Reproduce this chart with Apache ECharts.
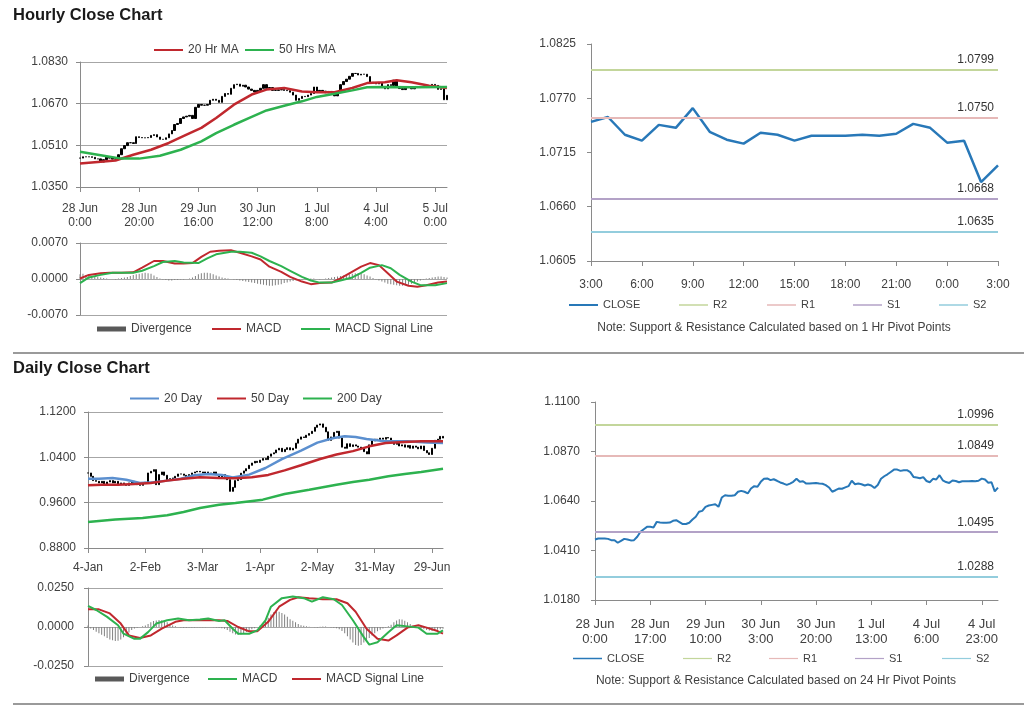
<!DOCTYPE html>
<html><head><meta charset="utf-8">
<script src="https://cdn.jsdelivr.net/npm/echarts@6/dist/echarts.min.js"></script>
<style>html,body{margin:0;padding:0;background:#fff}#c{width:1024px;height:706px}</style>
</head><body><div id="c"></div>
<script>
// ---------- Hourly data (28 Jun 0:00 .. 5 Jul, trading hours) ----------
const hourlyClose = [
1.0461,1.0466,1.0466,1.0466,1.0464,1.0458,1.0458,1.0446,1.0455,1.0464,
1.0461,1.0457,1.0458,1.0474,1.0497,1.0509,1.0520,1.0520,1.0517,1.0543,
1.0540,1.0539,1.0539,1.0540,1.0548,1.0551,1.0542,1.0533,1.0533,1.0539,
1.0554,1.0567,1.0590,1.0594,1.0613,1.0619,1.0622,1.0625,1.0613,1.0656,
1.0667,1.0664,1.0664,1.0667,1.0683,1.0687,1.0683,1.0675,1.0698,1.0709,
1.0706,1.0729,1.0743,1.0745,1.0737,1.0741,1.0734,1.0726,1.0721,1.0715,
1.0721,1.0729,1.0743,1.0729,1.0732,1.0721,1.0721,1.0723,1.0724,1.0721,
1.0720,1.0714,1.0703,1.0683,1.0690,1.0698,1.0697,1.0703,1.0709,1.0734,
1.0718,1.0721,1.0718,1.0712,1.0717,1.0712,1.0700,1.0714,1.0743,1.0755,
1.0764,1.0775,1.0786,1.0786,1.0780,1.0783,1.0783,1.0774,1.0752,1.0749,
1.0746,1.0751,1.0733,1.0727,1.0743,1.0740,1.0760,1.0736,1.0728,1.0724,
1.0735,1.0733,1.0727,1.0732,1.0732,1.0732,1.0733,1.0732,1.0734,1.0744,
1.0740,1.0725,1.0727,1.0685,1.0702];
const ma20Hr = [[0,1.0440],[12,1.0452],[18,1.0474],[24,1.0493],[30,1.0519],[36,1.0551],[41,1.0577],[46,1.0615],[52,1.0666],[58,1.0705],[63,1.0724],[69,1.0730],[75,1.0717],[80,1.0714],[86,1.0714],[92,1.0730],[97,1.0749],[103,1.0752],[107,1.0760],[112,1.0752],[118,1.0739],[124,1.0730]];
const ma50Hr = [[0,1.0485],[7,1.0472],[14,1.0459],[20,1.0459],[27,1.0470],[34,1.0493],[41,1.0525],[46,1.0557],[52,1.0589],[58,1.0619],[63,1.0644],[69,1.0662],[75,1.0679],[80,1.0696],[86,1.0708],[92,1.0721],[97,1.0733],[103,1.0734],[112,1.0733],[124,1.0734]];
const hourlyMacd = [[0,0.0001],[3,0.0008],[7,0.0011],[10,0.0012],[14,0.0012],[18,0.0013],[21,0.0022],[25,0.0035],[28,0.0035],[32,0.0030],[35,0.0030],[38,0.0031],[41,0.0043],[44,0.0053],[47,0.0055],[51,0.0056],[54,0.0051],[58,0.0044],[61,0.0038],[64,0.0024],[68,0.0014],[71,0.0004],[75,-0.0005],[78,-0.0010],[81,-0.0008],[85,-0.0007],[88,0.0001],[91,0.0011],[95,0.0024],[98,0.0031],[101,0.0027],[104,0.0011],[107,-0.0005],[111,-0.0013],[114,-0.0015],[117,-0.0012],[121,-0.0007],[124,-0.0005]];
const hourlySignal = [[0,-0.0008],[3,0.0003],[7,0.0008],[11,0.0012],[18,0.0012],[21,0.0016],[25,0.0025],[28,0.0033],[32,0.0035],[35,0.0032],[40,0.0031],[43,0.0040],[46,0.0048],[51,0.0053],[54,0.0053],[58,0.0051],[61,0.0044],[64,0.0035],[68,0.0025],[71,0.0016],[75,0.0004],[78,-0.0003],[81,-0.0007],[85,-0.0007],[88,-0.0003],[92,0.0003],[95,0.0012],[98,0.0022],[102,0.0027],[105,0.0021],[108,0.0008],[112,-0.0005],[115,-0.0012],[120,-0.0012],[124,-0.0008]];
const hourlyDivergence = [
0.0009,0.0010,0.0008,0.0007,
0.0006,0.0005,0.0004,0.0003,0.0002,0.0001,0.0000,0.0000,-0.0001,
0.0001,0.0002,0.0003,0.0004,0.0006,0.0008,0.0009,
0.0010,0.0011,0.0012,0.0011,0.0010,0.0007,0.0004,
0.0001,-0.0001,-0.0002,-0.0003,-0.0003,-0.0002,-0.0002,-0.0001,-0.0001,0.0000,0.0001,0.0003,
0.0006,0.0009,0.0011,0.0012,0.0012,0.0011,0.0009,0.0007,0.0005,0.0003,0.0002,0.0001,
0.0000,-0.0001,-0.0002,-0.0003,-0.0004,-0.0005,-0.0006,-0.0007,-0.0008,-0.0009,
-0.0010,-0.0011,-0.0012,-0.0013,-0.0013,-0.0012,-0.0011,-0.0010,-0.0008,-0.0007,-0.0005,-0.0004,-0.0003,
-0.0002,-0.0001,0.0000,0.0000,0.0001,0.0001,0.0000,-0.0001,0.0000,0.0001,0.0002,0.0003,0.0004,
0.0005,0.0006,0.0007,0.0008,0.0009,0.0010,0.0011,0.0011,0.0010,0.0009,0.0007,0.0005,0.0002,
-0.0001,-0.0003,-0.0005,-0.0007,-0.0009,-0.0010,-0.0011,-0.0012,-0.0013,-0.0013,-0.0012,-0.0011,-0.0009,-0.0007,-0.0005,-0.0003,
-0.0001,0.0001,0.0002,0.0003,0.0004,0.0005,0.0005,0.0004,0.0003];
const levelNames = ['R2','R1','S1','S2'];
const hourlyLevels = [1.0799,1.0750,1.0668,1.0635];
const dailyLevels = [1.0996,1.0849,1.0495,1.0288];

// ---------- Daily data (4 Jan .. 5 Jul) ----------
const dailyTickLabels = ['4-Jan','2-Feb','3-Mar','1-Apr','2-May','31-May','29-Jun'];
const dailyClose = [
1.0124,1.0065,0.9989,0.9977,0.9948,0.9977,0.9918,0.9965,0.9989,0.9948,
0.9977,0.9930,0.9948,0.9918,0.9906,0.9948,0.9977,0.9948,0.9918,0.9906,
0.9948,0.9959,1.0124,1.0153,1.0183,0.9918,1.0095,1.0142,1.0083,1.0006,
1.0024,1.0036,1.0065,1.0106,1.0106,1.0083,1.0047,1.0095,1.0124,1.0142,
1.0153,1.0142,1.0124,1.0142,1.0124,1.0106,1.0142,1.0095,1.0036,1.0095,
1.0024,1.0006,0.9800,0.9870,0.9990,1.0010,1.0120,1.0160,1.0200,1.0260,
1.0300,1.0330,1.0310,1.0350,1.0380,1.0360,1.0420,1.0460,1.0480,1.0530,
1.0560,1.0500,1.0540,1.0570,1.0530,1.0560,1.0650,1.0720,1.0760,1.0750,
1.0790,1.0820,1.0860,1.0930,1.0970,1.0990,1.0930,1.0850,1.0700,1.0760,
1.0840,1.0860,1.0740,1.0580,1.0560,1.0640,1.0590,1.0620,1.0600,1.0580,
1.0550,1.0500,1.0460,1.0620,1.0690,1.0720,1.0710,1.0740,1.0720,1.0750,
1.0740,1.0690,1.0630,1.0650,1.0600,1.0620,1.0580,1.0610,1.0560,1.0600,
1.0580,1.0550,1.0600,1.0520,1.0480,1.0450,1.0560,1.0700,1.0720,1.0770,
1.0740];
const ma20Day = [[0,1.0024],[4,1.0024],[9,1.0036],[14,1.0006],[19,0.9948],[24,0.9959],[29,0.9989],[34,1.0024],[39,1.0083],[44,1.0106],[49,1.0090],[53,1.0045],[59,1.0095],[65,1.0212],[71,1.0370],[78,1.0520],[84,1.0660],[90,1.0741],[94,1.0771],[98,1.0760],[102,1.0724],[108,1.0690],[117,1.0682],[124,1.0660],[130,1.0653]];
const ma50Day = [[0,0.9906],[5,0.9918],[11,0.9918],[17,0.9930],[23,0.9948],[29,0.9989],[35,1.0024],[41,1.0047],[48,1.0036],[54,1.0030],[60,1.0050],[66,1.0090],[72,1.0170],[78,1.0260],[85,1.0370],[91,1.0450],[97,1.0510],[103,1.0594],[109,1.0653],[116,1.0671],[122,1.0682],[130,1.0682]];
const ma200Day = [[0,0.9260],[10,0.9301],[20,0.9330],[29,0.9377],[35,0.9436],[41,0.9506],[48,0.9565],[54,0.9594],[64,0.9653],[72,0.9753],[81,0.9829],[91,0.9918],[97,0.9965],[103,1.0006],[110,1.0065],[116,1.0106],[122,1.0142],[130,1.0200]];
const dailyMacd = [[0,0.0135],[3,0.0109],[7,0.0065],[11,0.0011],[13,-0.0043],[17,-0.0076],[19,-0.0076],[22,-0.0033],[25,0.0022],[29,0.0043],[33,0.0054],[37,0.0043],[41,0.0048],[44,0.0054],[48,0.0039],[50,0.0043],[53,-0.0011],[55,-0.0043],[59,-0.0043],[62,-0.0022],[65,0.0043],[67,0.0130],[71,0.0185],[75,0.0196],[79,0.0185],[82,0.0163],[86,0.0191],[90,0.0178],[93,0.0141],[97,0.0043],[101,-0.0065],[103,-0.0113],[106,-0.0098],[110,-0.0033],[113,0.0011],[117,0.0004],[121,-0.0004],[124,-0.0043],[128,-0.0043],[130,-0.0022]];
const dailySignal = [[0,0.0113],[4,0.0113],[8,0.0087],[12,0.0022],[15,-0.0054],[19,-0.0070],[23,-0.0054],[27,-0.0011],[32,0.0033],[35,0.0043],[41,0.0043],[48,0.0043],[51,0.0039],[55,0.0000],[59,-0.0028],[62,-0.0028],[66,0.0033],[70,0.0130],[74,0.0174],[77,0.0191],[81,0.0185],[86,0.0178],[91,0.0178],[95,0.0152],[98,0.0098],[102,-0.0011],[106,-0.0076],[110,-0.0087],[113,-0.0054],[117,-0.0004],[121,0.0011],[124,-0.0004],[128,-0.0026],[130,-0.0043]];
const dailyDivergence = [
0.0010,
-0.0010,-0.0020,-0.0030,-0.0040,-0.0050,-0.0060,-0.0070,-0.0080,-0.0085,-0.0090,-0.0088,-0.0080,-0.0065,-0.0050,-0.0035,-0.0020,-0.0010,
-0.0005,0.0000,0.0005,0.0010,
0.0020,0.0030,0.0038,0.0042,0.0045,0.0044,0.0040,0.0030,0.0020,
0.0010,0.0005,0.0000,-0.0003,-0.0005,-0.0005,-0.0004,-0.0003,-0.0003,-0.0002,-0.0002,-0.0001,-0.0001,0.0000,0.0000,-0.0002,-0.0003,-0.0005,-0.0008,-0.0012,
-0.0020,-0.0030,-0.0040,-0.0048,-0.0050,-0.0048,-0.0040,-0.0032,-0.0025,-0.0015,-0.0008,0.0000,
0.0010,0.0025,0.0040,0.0060,0.0080,0.0095,0.0100,0.0098,0.0090,0.0080,0.0065,0.0050,0.0040,0.0030,0.0020,0.0012,0.0008,0.0005,
0.0002,0.0000,-0.0002,-0.0003,0.0002,0.0004,0.0003,0.0000,-0.0003,-0.0005,-0.0008,-0.0015,-0.0025,
-0.0040,-0.0060,-0.0080,-0.0100,-0.0115,-0.0120,-0.0115,-0.0100,-0.0085,-0.0070,-0.0055,-0.0040,-0.0028,-0.0018,-0.0010,-0.0003,0.0005,
0.0015,0.0030,0.0042,0.0050,0.0048,0.0040,0.0030,0.0020,0.0010,0.0003,
-0.0005,-0.0010,-0.0015,-0.0020,-0.0022,-0.0025,-0.0022,-0.0018,-0.0015,-0.0012];

// ---------- derived tables ----------
const months = ['Jan','Feb','Mar','Apr','May','Jun','Jul'];
const hourlyCats = hourlyClose.map((_, i) => {
  const h = i + (i >= 96 ? 48 : 0);
  const d = new Date(Date.UTC(2016, 5, 28) + h * 3600000);
  return d.getUTCDate() + ' ' + months[d.getUTCMonth()] + '\n' + d.getUTCHours() + ':00';
});
const pivotClose = hourlyClose.slice(-25);
const pivotCats = pivotClose.map((_, i) => ((3 + i) % 24) + ':00');
const dailyCats = dailyClose.map((_, i) => String(i));
const toOHLC = arr => arr.map((c, i) => { const o = i ? arr[i - 1] : c; return [o, c, Math.min(o, c), Math.max(o, c)]; });

// ---------- styling ----------
const FONT = '"Liberation Sans", Arial, sans-serif';
const TXT = '#404040', AX = '#8a8a8a', GRIDC = '#a6a6a6';
const RED = '#c0282e', GREEN = '#2db24f', BLUE20 = '#5b8fcf', CLOSE = '#2878b8', HIST = '#808080';
const levelColors = ['#c3d69b', '#e6b9b8', '#b3a2c7', '#93cddd'];

function catAxis(grid, data, interval, margin, show, fs) {
  return {
    type: 'category', gridIndex: grid, data: data, boundaryGap: false,
    axisLine: { show: show, onZero: false, lineStyle: { color: AX } },
    axisTick: { show: show, interval: interval, length: 5, lineStyle: { color: AX } },
    axisLabel: { show: show, interval: interval, color: TXT, fontSize: fs || 12, fontFamily: FONT, margin: margin, lineHeight: fs ? fs + 2 : 14 },
    splitLine: { show: false }
  };
}
function valAxis(grid, min, max, interval, margin, split, fs) {
  return {
    type: 'value', gridIndex: grid, min: min, max: max, interval: interval,
    axisLine: { show: true, lineStyle: { color: AX } },
    axisTick: { show: true, length: 4, lineStyle: { color: AX } },
    axisLabel: { color: TXT, fontSize: fs || 12, fontFamily: FONT, margin: margin, formatter: v => v.toFixed(4) },
    splitLine: { show: split, lineStyle: { color: GRIDC, width: 1 } }
  };
}
function legendItem(name, left, top, color, h, fs) {
  return {
    left: left, top: top, icon: 'rect', itemWidth: 29, itemHeight: h, itemGap: 0,
    selectedMode: false, padding: 0,
    textStyle: { color: TXT, fontSize: fs || 12, fontFamily: FONT },
    data: [{ name: name, itemStyle: { color: color } }]
  };
}
function lineSeries(name, x, y, data, color, width) {
  return { name: name, type: 'line', xAxisIndex: x, yAxisIndex: y, data: data, symbol: 'none', silent: true,
    lineStyle: { color: color, width: width }, itemStyle: { color: color } };
}
function levelSeries(x, y, values) {
  return levelNames.map((n, k) => ({
    name: n, type: 'line', xAxisIndex: x, yAxisIndex: y, data: [], symbol: 'none', silent: true,
    itemStyle: { color: levelColors[k] }, lineStyle: { color: levelColors[k] },
    markLine: { silent: true, symbol: ['none', 'none'], animation: false, precision: 4,
      lineStyle: { color: levelColors[k], width: 2, type: 'solid' },
      label: { show: true, position: 'insideEndTop', distance: 4, color: '#333', fontSize: 12, fontFamily: FONT,
        formatter: () => values[k].toFixed(4) },
      data: [{ yAxis: values[k] }] }
  }));
}

const option = {
  animation: false,
  backgroundColor: '#fff',
  grid: [
    { left: 80, top: 62, width: 367, height: 125 },
    { left: 80, top: 243, width: 367, height: 72 },
    { left: 591, top: 44, width: 407, height: 217 },
    { left: 88, top: 412, width: 355, height: 136 },
    { left: 88, top: 588, width: 355, height: 78 },
    { left: 595, top: 402, width: 403, height: 198 }
  ],
  xAxis: [
    catAxis(0, hourlyCats, 19, 15, true),
    catAxis(1, hourlyCats, 19, 8, false),
    catAxis(2, pivotCats, 2, 17, true),
    catAxis(3, dailyCats, 20, 13, true),
    catAxis(4, dailyCats, 20, 8, false),
    catAxis(5, hourlyCats, 16, 17, true, 13)
  ],
  yAxis: [
    valAxis(0, 1.035, 1.083, 0.016, 12, true),
    valAxis(1, -0.007, 0.007, 0.007, 12, true),
    valAxis(2, 1.0605, 1.0825, 0.0055, 15, false),
    valAxis(3, 0.88, 1.12, 0.08, 12, true),
    valAxis(4, -0.025, 0.025, 0.025, 14, true),
    valAxis(5, 1.018, 1.11, 0.023, 15, false)
  ],
  legend: [
    legendItem('20 Hr MA', 154, 44, RED, 2),
    legendItem('50 Hrs MA', 245, 44, GREEN, 2),
    legendItem('Divergence', 97, 323, '#595959', 5),
    legendItem('MACD', 212, 323, RED, 2),
    legendItem('MACD Signal Line', 301, 323, GREEN, 2),
    legendItem('CLOSE', 569, 299.5, CLOSE, 2, 11),
    legendItem('R2', 679, 299.5, levelColors[0], 1.5, 11),
    legendItem('R1', 767, 299.5, levelColors[1], 1.5, 11),
    legendItem('S1', 853, 299.5, levelColors[2], 1.5, 11),
    legendItem('S2', 939, 299.5, levelColors[3], 1.5, 11),
    legendItem('20 Day', 130, 392.5, BLUE20, 2),
    legendItem('50 Day', 217, 392.5, RED, 2),
    legendItem('200 Day', 303, 392.5, GREEN, 2),
    legendItem('Divergence', 95, 673, '#595959', 5),
    legendItem('MACD', 208, 673, GREEN, 2),
    legendItem('MACD Signal Line', 292, 673, RED, 2),
    legendItem('CLOSE', 573, 653, CLOSE, 1.5, 11),
    legendItem('R2', 683, 653, levelColors[0], 1.2, 11),
    legendItem('R1', 769, 653, levelColors[1], 1.2, 11),
    legendItem('S1', 855, 653, levelColors[2], 1.2, 11),
    legendItem('S2', 942, 653, levelColors[3], 1.2, 11)
  ],
  graphic: [
    { type: 'text', left: 13, top: 7, style: { text: 'Hourly Close Chart', font: 'bold 16.5px ' + FONT, fill: '#1a1a1a' } },
    { type: 'text', left: 13, top: 360, style: { text: 'Daily Close Chart', font: 'bold 16.5px ' + FONT, fill: '#1a1a1a' } },
    { type: 'rect', shape: { x: 13, y: 352, width: 1011, height: 2 }, style: { fill: '#9a9a9a' } },
    { type: 'rect', shape: { x: 13, y: 703, width: 1011, height: 2 }, style: { fill: '#9a9a9a' } },
    { type: 'text', x: 774, y: 328, style: { text: 'Note: Support & Resistance Calculated based on 1 Hr Pivot Points', font: '12px ' + FONT, fill: TXT, textAlign: 'center', textVerticalAlign: 'middle' } },
    { type: 'text', x: 776, y: 680.5, style: { text: 'Note: Support & Resistance Calculated based on 24 Hr Pivot Points', font: '12px ' + FONT, fill: TXT, textAlign: 'center', textVerticalAlign: 'middle' } }
  ],
  series: [
    // hourly price
    { name: 'HourlyBars', type: 'candlestick', xAxisIndex: 0, yAxisIndex: 0, data: toOHLC(hourlyClose), barWidth: 2, silent: true,
      itemStyle: { color: '#000', color0: '#000', borderColor: '#000', borderColor0: '#000', borderWidth: 1 } },
    lineSeries('20 Hr MA', 0, 0, ma20Hr, RED, 2.5),
    lineSeries('50 Hrs MA', 0, 0, ma50Hr, GREEN, 2.5),
    // hourly MACD
    { name: 'Divergence', type: 'bar', xAxisIndex: 1, yAxisIndex: 1, data: hourlyDivergence, barWidth: 1, silent: true, itemStyle: { color: HIST } },
    lineSeries('MACD', 1, 1, hourlyMacd, RED, 2),
    lineSeries('MACD Signal Line', 1, 1, hourlySignal, GREEN, 2),
    // hourly pivots
    ...levelSeries(2, 2, hourlyLevels),
    lineSeries('CLOSE', 2, 2, pivotClose, CLOSE, 2.5),
    // daily price
    { name: 'DailyBars', type: 'candlestick', xAxisIndex: 3, yAxisIndex: 3, data: toOHLC(dailyClose), barWidth: 1.5, silent: true,
      itemStyle: { color: '#000', color0: '#000', borderColor: '#000', borderColor0: '#000', borderWidth: 1 } },
    lineSeries('20 Day', 3, 3, ma20Day, BLUE20, 2.5),
    lineSeries('50 Day', 3, 3, ma50Day, RED, 2.5),
    lineSeries('200 Day', 3, 3, ma200Day, GREEN, 2.5),
    // daily MACD
    { name: 'Divergence', type: 'bar', xAxisIndex: 4, yAxisIndex: 4, data: dailyDivergence, barWidth: 1, silent: true, itemStyle: { color: HIST } },
    lineSeries('MACD Signal Line', 4, 4, dailySignal, RED, 2),
    lineSeries('MACD', 4, 4, dailyMacd, GREEN, 2),
    // daily pivots (24 hr)
    ...levelSeries(5, 5, dailyLevels),
    lineSeries('CLOSE', 5, 5, hourlyClose, CLOSE, 2)
  ]
};
// daily tick labels
option.xAxis[3].axisLabel.formatter = (v, i) => (i % 21 === 0 ? (dailyTickLabels[i / 21] || '') : '');

const chart = echarts.init(document.getElementById('c'), null, { renderer: 'canvas' });
chart.setOption(option);
</script>
</body></html>
